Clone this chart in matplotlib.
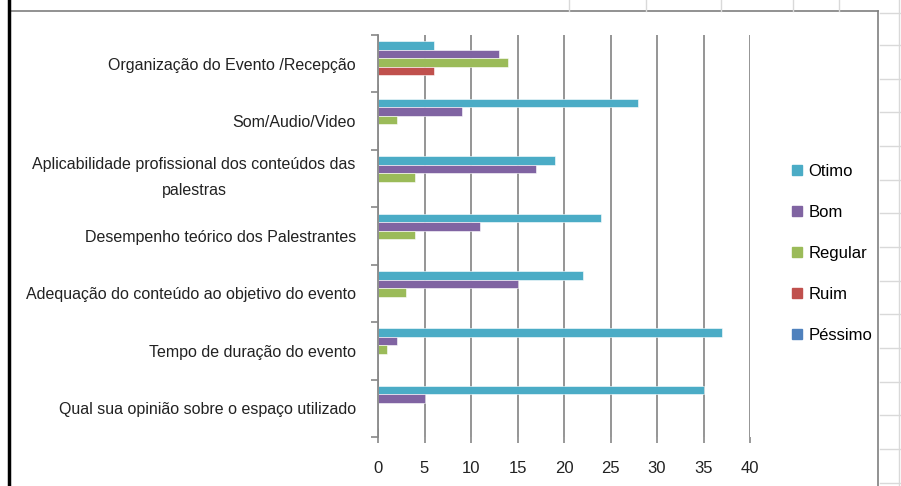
import numpy as np
import matplotlib.pyplot as plt
import matplotlib.transforms as mtransforms
from matplotlib.lines import Line2D

# categories, top to bottom as in the chart
categories = [
    "Organização do Evento /Recepção",
    "Som/Audio/Video",
    "Aplicabilidade profissional dos conteúdos das\npalestras",
    "Desempenho teórico dos Palestrantes",
    "Adequação do conteúdo ao objetivo do evento",
    "Tempo de duração do evento",
    "Qual sua opinião sobre o espaço utilizado",
]
series = ["Otimo", "Bom", "Regular", "Ruim", "Péssimo"]
otimo = [6, 28, 19, 24, 22, 37, 35]
bom = [13, 9, 17, 11, 15, 2, 5]
regular = [14, 2, 4, 4, 3, 1, 0]
ruim = [6, 0, 0, 0, 0, 0, 0]
pessimo = [0, 0, 0, 0, 0, 0, 0]
xticks = [0, 5, 10, 15, 20, 25, 30, 35, 40]

colors = ["#4BACC6", "#8064A2", "#9BBB59", "#C0504D", "#4F81BD"]
values = [otimo, bom, regular, ruim, pessimo]

plt.rcParams['font.family'] = ['Liberation Sans Narrow', 'Liberation Sans', 'DejaVu Sans']

fig = plt.figure(figsize=(9.01, 4.86), dpi=100)
ax = fig.add_axes([378/901, 1-437/486, (750-378)/901, (437-35)/486])

n = len(categories)
ypos = np.arange(n)[::-1]  # top category gets highest y
h = 0.148
for i, (name, vals, c) in enumerate(zip(series, values, colors)):
    offs = (2 - i) * h + 0.02  # Otimo on top of each group
    ax.barh(ypos + offs, vals, height=h, color=c, edgecolor="white",
            linewidth=0.4, label=name, zorder=3)

ax.set_xlim(0, 40)
ax.set_ylim(-0.5, n - 0.5)
ax.set_xticks(xticks)
ax.set_xticklabels([str(t) for t in xticks], fontsize=12, color="#222222")
ax.set_yticks(ypos)
labels = ax.set_yticklabels(categories, fontsize=11.5, color="#222222",
                            multialignment="center", linespacing=1.9)
ax.tick_params(axis="y", length=0, pad=16)
ax.set_yticks(np.arange(n + 1) - 0.5, minor=True)
ax.tick_params(axis="y", which="minor", length=5, color="#888888", width=1.2)
ax.tick_params(axis="x", length=4, color="#888888", width=1.2, pad=13)
ax.xaxis.grid(True, color="#8c8c8c", linewidth=1.3, zorder=0)
for s in ["top", "right", "bottom"]:
    ax.spines[s].set_visible(False)
ax.spines["left"].set_color("#888888")
ax.spines["left"].set_linewidth(1.3)
ax.spines["left"].set_zorder(4)

# nudge the two-line label up a bit
for lab in ax.get_yticklabels():
    if "\n" in lab.get_text():
        lab.set_transform(lab.get_transform() +
                          mtransforms.ScaledTranslation(0, 8/100, fig.dpi_scale_trans))

# legend
handles = [Line2D([], [], marker="s", linestyle="", markersize=7, color=c) for c in colors]
fig.legend(handles, series, loc="upper left", bbox_to_anchor=(780/901, 1-156/486),
           frameon=False, fontsize=12, labelspacing=1.55, handletextpad=0.2,
           handlelength=1.0, borderpad=0)

# spreadsheet background / chart frame
frame = dict(transform=fig.transFigure, clip_on=False)
fig.add_artist(Line2D([10/901, 878/901], [1-11/486, 1-11/486], color="#7f7f7f", lw=1.2, **frame))
fig.add_artist(Line2D([878/901, 878/901], [0, 1-11/486], color="#7f7f7f", lw=1.2, **frame))
fig.add_artist(Line2D([9/901, 9/901], [0, 1], color="black", lw=2.5, **frame))
for x in [569, 646, 721, 793, 839]:
    fig.add_artist(Line2D([x/901, x/901], [1-11/486, 1], color="#d9d9d9", lw=1, **frame))
fig.add_artist(Line2D([899/901, 899/901], [0, 1], color="#d9d9d9", lw=1, **frame))
for y in [13, 45, 79, 112, 146, 180, 213, 247, 281, 314, 348, 382, 415, 449, 483]:
    fig.add_artist(Line2D([880/901, 1], [1-y/486, 1-y/486], color="#d9d9d9", lw=1, **frame))

fig.savefig("out.png", dpi=100)
